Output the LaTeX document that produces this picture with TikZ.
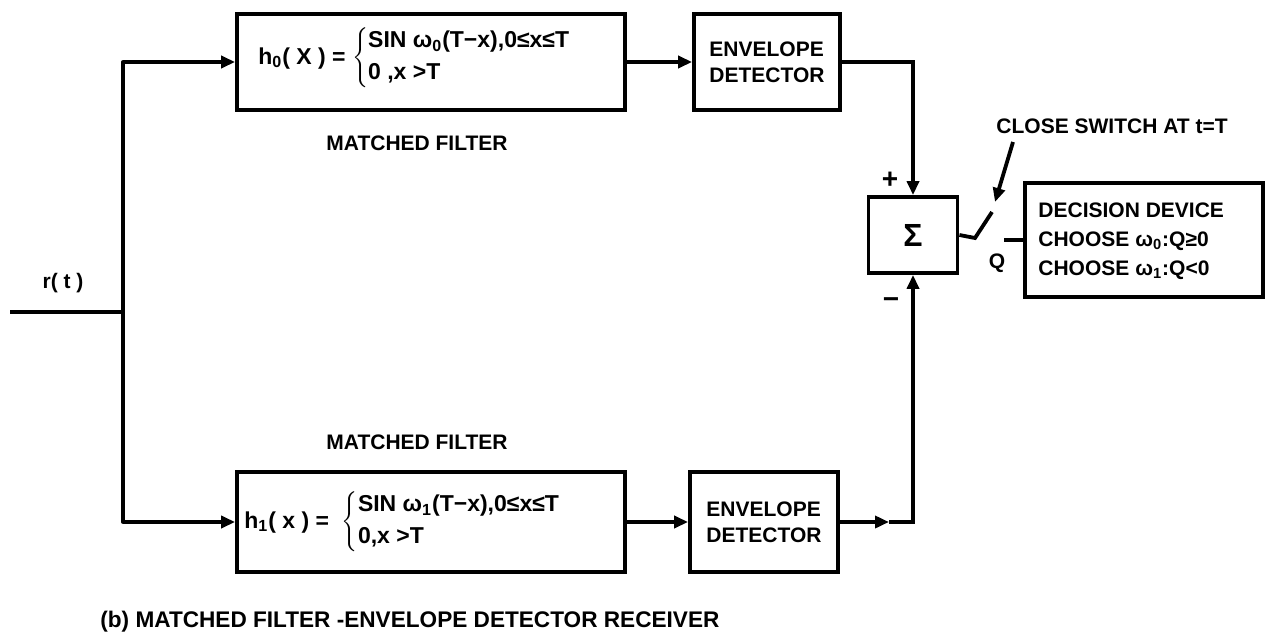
\documentclass[tikz,border=0pt]{standalone}
\usepackage{fontspec}
\setmainfont{Liberation Sans}
\usetikzlibrary{arrows.meta}
\begin{document}
\begin{tikzpicture}[x=0.5pt,y=-0.5pt,
  wire/.style={line width=1.9pt},
  arr/.style={wire,-{Triangle[length=7pt,width=6pt]}},
  box/.style={draw,line width=1.9pt,inner sep=0pt},
  lbl/.style={font=\bfseries\fontsize{10.5}{13}\selectfont,inner sep=0pt},
  fml/.style={font=\bfseries\fontsize{11.5}{14}\selectfont,inner sep=0pt},
]
\useasboundingbox (0,0) rectangle (1267,637);
% boxes
\node[box,minimum width=194pt,minimum height=48pt] (tfil) at (431,62) {};
\node[box,minimum width=73pt,minimum height=48pt,lbl,align=left] (tenv) at (767,62) {ENVELOPE\\DETECTOR};
\node[box,minimum width=194pt,minimum height=50pt] (bfil) at (431,522) {};
\node[box,minimum width=74pt,minimum height=50pt,lbl,align=left] (benv) at (764,522) {ENVELOPE\\DETECTOR};
\node[box,minimum width=44.5pt,minimum height=38pt,font=\bfseries\fontsize{16}{18}\selectfont] (sig) at (913,235) {Σ};
\node[box,minimum width=119pt,minimum height=57pt] (dec) at (1144,240) {};
% box contents
\node[fml,anchor=west] (f0) at (258,58) {h\textsubscript{0}( X ) = $\left\{\begin{tabular}{@{}l@{}}SIN ω\textsubscript{0}(T−x),0≤x≤T\\[2pt]0 ,x >T\end{tabular}\right.$};
\node[fml,anchor=west] (f1) at (244,522) {h\textsubscript{1}( x ) = \ $\left\{\begin{tabular}{@{}l@{}}SIN ω\textsubscript{1}(T−x),0≤x≤T\\[2pt]0,x >T\end{tabular}\right.$};
\node[lbl,anchor=west,align=left,font=\bfseries\fontsize{10.5}{14.5}\selectfont] (dect) at (1038,241) {DECISION DEVICE\\CHOOSE ω\textsubscript{0}:Q≥0\\CHOOSE ω\textsubscript{1}:Q<0};
% labels
\node[lbl] (mf0) at (417,143) {MATCHED FILTER};
\node[lbl] (mf1) at (417,442) {MATCHED FILTER};
\node[lbl] (rt) at (63,283) {r( t )};
\node[lbl,font=\bfseries\fontsize{14}{14}\selectfont] (plus) at (890,180) {+};
\node[lbl,font=\bfseries\fontsize{14}{14}\selectfont] (minus) at (891,303) {−};
\node[lbl] (q) at (997,263) {Q};
\node[lbl] (cs) at (1112,126) {CLOSE SWITCH AT t=T};
\node[lbl,anchor=west,font=\bfseries\fontsize{11.3}{13}\selectfont] (cap) at (100,622) {(b) MATCHED FILTER -ENVELOPE DETECTOR RECEIVER};
% coordinates
\coordinate (in) at (10,312);
\coordinate (jin) at (123,312);
\coordinate (jtop) at (123,62);
\coordinate (jbot) at (123,522);
\coordinate (ttop) at (913,62);
\coordinate (bmid) at (889,522);
\coordinate (bturn) at (913,522);
\coordinate (sw1) at (975,238);
\coordinate (sw2) at (992,212);
\coordinate (sw3) at (1004,240);
\coordinate (csa) at (1013,142);
\coordinate (csb) at (995,202);
% connectors
\draw[wire] (in) -- (jin);
\draw[wire,line cap=round] (jtop) -- (jbot);
\draw[arr] (jtop) -- (tfil.west);
\draw[arr] (jbot) -- (bfil.west);
\draw[arr] (tfil.east) -- (tenv.west);
\draw[arr] (bfil.east) -- (benv.west);
\draw[arr] (tenv.east) -- (ttop) -- (sig.north);
\draw[arr] (benv.east) -- (bmid);
\draw[arr] (bmid) -- (bturn) -- (sig.south);
\draw[wire] (sig.east) -- (sw1) -- (sw2);
\draw[wire] (sw3) -- (dec.west);
\draw[arr] (csa) -- (csb);
\end{tikzpicture}
\end{document}
